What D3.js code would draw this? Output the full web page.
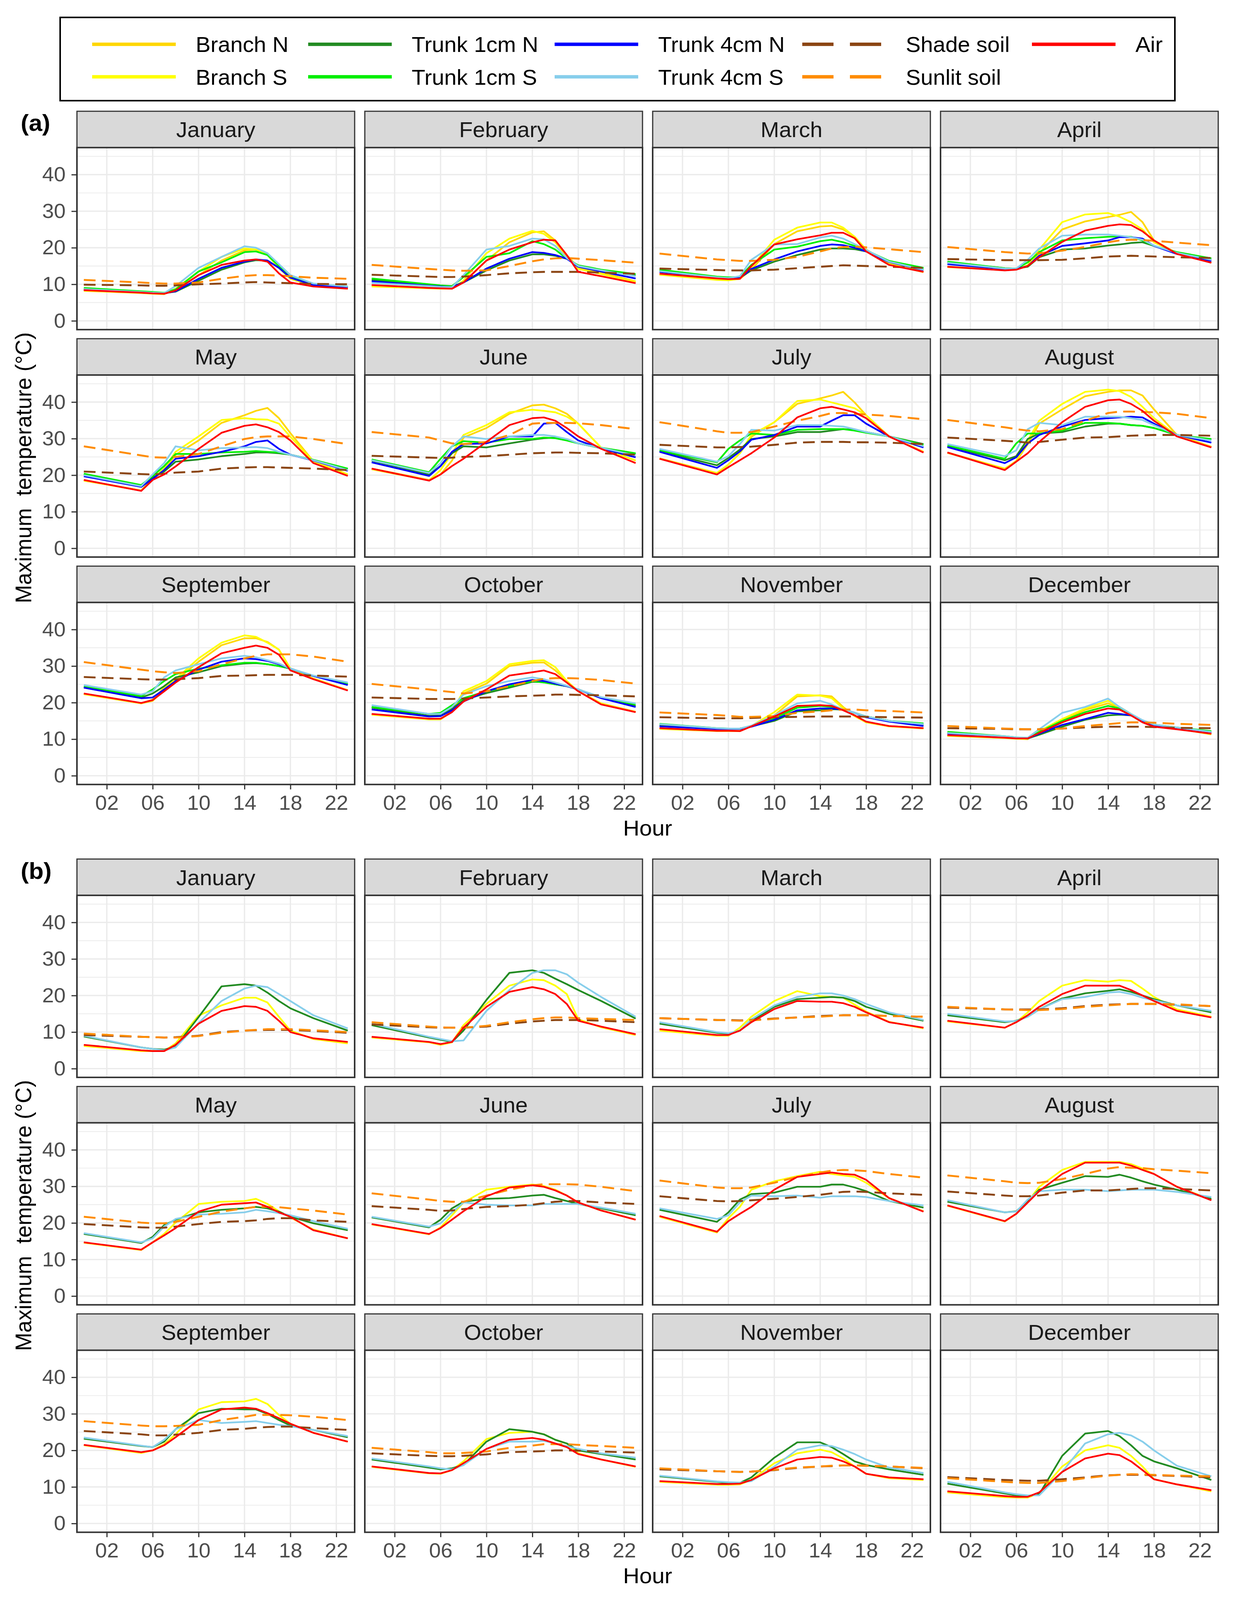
<!DOCTYPE html>
<html>
<head>
<meta charset="utf-8">
<script src="https://cdn.jsdelivr.net/npm/d3@7"></script>
<style>
  html, body { margin: 0; padding: 0; background: #fff; overflow: hidden; }
  svg { display: block; }
  text { font-family: "Liberation Sans", Arial, sans-serif; }
</style>
</head>
<body>
<div id="chart"></div>
<script>
const months = ["January", "February", "March", "April", "May", "June",
  "July", "August", "September", "October", "November", "December"];
const hours = [0, 5, 6, 7, 8, 10, 12, 14, 15, 16, 17, 18, 20, 23];
const hourTicks = [2, 6, 10, 14, 18, 22];
const tempTicks = [0, 10, 20, 30, 40];
const seriesNames = ["Branch N", "Branch S", "Trunk 1cm N", "Trunk 1cm S",
  "Trunk 4cm N", "Trunk 4cm S", "Shade soil", "Sunlit soil", "Air"];

// (a) one row per month, one value per entry of hours
const aBranchN = [
  [8.3, 7.7, 7.5, 7.4, 8.5, 12.5, 16.5, 19.3, 19.5, 18.5, 15, 12, 9.8, 9.0],
  [9.6, 9.0, 8.9, 8.9, 10.5, 16.5, 21.5, 24.2, 24.5, 22, 18, 14.6, 13.2, 10.8],
  [12.7, 11.3, 11.2, 11.5, 14.0, 21.0, 24.5, 25.8, 26.0, 25.0, 23, 19.5, 15.8, 13.4],
  [14.8, 14.0, 14.2, 15.0, 18.5, 25.0, 27.2, 28.4, 29.0, 29.8, 27.0, 22.0, 18.5, 16.0],
  [18.6, 15.8, 18.8, 21.5, 25.6, 29.5, 34.3, 36.4, 37.6, 38.4, 35.6, 31.5, 23.8, 20.2],
  [21.8, 18.7, 20.2, 24.0, 30.3, 32.9, 36.8, 39.1, 39.3, 38.3, 36.8, 34.1, 27.5, 24.0],
  [24.6, 20.6, 22.9, 26.0, 30.5, 34.5, 39.5, 41.0, 41.8, 42.8, 39.9, 36.4, 30.6, 26.4],
  [26.2, 21.8, 23.8, 28.5, 34.1, 38.0, 41.6, 42.8, 43.2, 43.2, 41.8, 38.0, 31.0, 27.8],
  [22.4, 19.8, 20.5, 23.5, 26.0, 31.2, 35.7, 37.6, 37.6, 36.6, 34.5, 29.3, 26.6, 23.4],
  [16.8, 15.5, 15.5, 17.5, 22.5, 25.2, 30.0, 30.9, 31.0, 28.8, 25.9, 23.1, 19.8, 17.5],
  [12.9, 12.3, 12.3, 12.3, 13.6, 16.5, 21.7, 22.0, 21.7, 18.8, 16.5, 14.6, 13.6, 13.0],
  [11.0, 10.4, 10.2, 10.1, 12.0, 15.0, 18.0, 19.8, 18.5, 16.7, 15.0, 13.8, 13.0, 11.4]
];
const aBranchS = [
  [8.2, 7.6, 7.4, 7.3, 8.8, 13.5, 17.5, 19.8, 19.5, 18, 14.5, 11.5, 9.6, 8.8],
  [9.4, 8.9, 8.8, 8.8, 11, 18.5, 22.5, 24.6, 23.8, 21.5, 17.5, 14.2, 12.8, 10.6],
  [12.6, 11.2, 11.1, 11.5, 14.7, 22.2, 25.5, 26.9, 26.9, 25.5, 23, 19.3, 15.6, 13.3],
  [14.7, 13.9, 14.2, 15.2, 19.5, 27.0, 29.1, 29.5, 28.5, 27.0, 25.0, 21.5, 18.5, 15.9],
  [18.5, 15.8, 19.1, 21.8, 26.4, 30.6, 35.1, 35.6, 35.3, 35.2, 34.1, 30.5, 23.8, 20.2],
  [21.6, 18.6, 21.4, 26.0, 31.0, 33.7, 37.2, 37.9, 37.6, 37.2, 36.0, 34.1, 27.5, 24.0],
  [24.5, 20.5, 22.9, 26.0, 31.0, 34.5, 40.3, 40.7, 39.9, 39.1, 38.3, 36.4, 30.6, 26.3],
  [26.1, 21.7, 23.9, 29.5, 34.9, 39.5, 42.8, 43.4, 43.0, 41.4, 38.7, 35.6, 30.8, 27.7],
  [22.3, 19.8, 20.8, 24.1, 26.4, 32.1, 36.4, 38.4, 38.0, 36.4, 34.5, 29.3, 26.5, 23.4],
  [16.7, 15.4, 15.4, 17.6, 23.1, 25.9, 30.5, 31.4, 31.6, 29.7, 25.9, 23.1, 19.7, 17.4],
  [12.8, 12.2, 12.2, 12.2, 13.6, 17.4, 22.2, 21.9, 21.2, 18.4, 16.3, 14.6, 13.5, 12.9],
  [10.9, 10.3, 10.1, 10.0, 12.2, 15.5, 18.4, 20.5, 18.8, 16.9, 15.0, 13.7, 12.9, 11.3]
];
const aTrunk1N = [
  [8.6, 7.9, 7.7, 7.6, 8.0, 11.0, 14.0, 16.0, 16.6, 16.5, 14.5, 12, 10, 9.2],
  [11.2, 9.8, 9.6, 9.4, 10.5, 13.8, 16.5, 18.2, 18.2, 17.8, 17, 15, 13.8, 12.4],
  [13.8, 12.0, 11.8, 11.8, 13.8, 16.2, 18.0, 19.5, 19.8, 19.8, 19.6, 19.0, 16.3, 14.3],
  [16.0, 14.4, 14.3, 14.8, 17.4, 19.5, 19.8, 20.6, 20.9, 21.3, 21.5, 20.5, 18.5, 16.8],
  [20.2, 17.1, 19.4, 21.0, 23.7, 24.3, 25.2, 25.8, 26.2, 26.2, 26.0, 25.6, 24.1, 21.6],
  [24.0, 20.2, 22.5, 26.0, 27.9, 27.6, 28.7, 29.7, 30.1, 30.3, 29.8, 28.7, 27.4, 25.8],
  [26.6, 22.7, 24.7, 27.0, 29.9, 30.6, 31.8, 31.8, 32.2, 32.6, 32.4, 31.8, 30.6, 28.5],
  [27.9, 24.1, 25.2, 29.9, 31.4, 31.8, 33.3, 34.1, 34.1, 33.7, 33.5, 32.9, 31.0, 29.7],
  [24.3, 21.4, 22.5, 24.5, 26.9, 28.3, 30.0, 30.7, 30.8, 30.5, 30.0, 29.3, 27.3, 25.0],
  [18.6, 16.4, 16.5, 18.4, 20.7, 22.6, 24.1, 25.7, 25.6, 25.0, 24.5, 23.6, 21.4, 19.1],
  [13.8, 12.9, 12.9, 12.9, 13.5, 15.0, 17.6, 17.9, 18.2, 18.1, 17.2, 16.2, 15.0, 13.9],
  [11.7, 10.7, 10.4, 10.2, 11.2, 13.4, 15.3, 16.5, 16.7, 16.5, 15.0, 13.9, 13.1, 12.0]
];
const aTrunk1S = [
  [9.0, 8.1, 7.9, 7.7, 8.6, 13.5, 16.0, 18.8, 19.0, 18.0, 15, 12.2, 10, 9.4],
  [11.6, 10.0, 9.7, 9.5, 12, 17.5, 18.5, 21.8, 21, 19.5, 17, 15.2, 14, 12.8],
  [14.0, 12.1, 11.9, 12.0, 15.3, 19.5, 20.3, 21.8, 22.2, 21.5, 20.5, 19.3, 16.4, 14.5],
  [16.2, 14.4, 14.3, 16.0, 18.8, 22.0, 22.6, 23.0, 23.1, 23.0, 22.0, 20.5, 18.8, 17.1],
  [20.4, 17.3, 19.8, 22.5, 25.8, 25.8, 26.2, 26.4, 26.6, 26.4, 26.2, 25.6, 24.2, 21.8],
  [24.3, 20.8, 24.5, 27.9, 29.3, 28.9, 29.9, 29.9, 30.3, 30.1, 29.5, 28.7, 27.5, 26.0],
  [26.8, 23.5, 27.2, 29.5, 31.4, 31.0, 32.4, 32.6, 32.6, 32.6, 32.2, 31.6, 30.6, 28.3],
  [28.1, 24.5, 28.7, 31.4, 31.4, 32.2, 34.3, 34.3, 34.1, 33.7, 33.5, 32.9, 31.0, 29.9],
  [24.4, 21.8, 23.6, 25.9, 27.8, 29.3, 30.2, 30.9, 30.9, 30.5, 30.0, 29.3, 27.3, 25.2],
  [18.8, 16.9, 17.2, 19.3, 21.2, 23.1, 24.5, 25.9, 25.5, 25.0, 24.5, 23.6, 21.4, 19.5],
  [14.2, 13.0, 12.9, 12.9, 13.6, 15.7, 18.6, 19.1, 18.8, 18.1, 17.2, 16.2, 15.0, 14.3],
  [12.0, 10.8, 10.5, 10.3, 12.0, 15.0, 17.4, 19.1, 18.4, 16.7, 15.0, 14.0, 13.2, 12.2]
];
const aTrunk4N = [
  [8.5, 7.8, 7.6, 7.5, 8.1, 11.5, 14.5, 16.2, 16.8, 16.5, 14.5, 11.8, 9.8, 9.1],
  [10.8, 9.6, 9.4, 9.2, 10.5, 14.3, 17.0, 18.8, 18.6, 18, 17, 14.8, 13.5, 11.6],
  [13.4, 11.8, 11.6, 11.7, 14.2, 16.8, 19.0, 20.5, 20.9, 20.7, 20, 19.0, 16.1, 13.9],
  [15.5, 14.2, 14.2, 15.0, 17.8, 20.5, 21.2, 22.0, 22.9, 22.9, 22.5, 20.5, 18.3, 16.4],
  [19.7, 16.8, 19.0, 21.4, 24.5, 25.2, 26.4, 27.9, 29.1, 29.5, 27.2, 25.6, 24.0, 21.2],
  [23.5, 19.8, 22.5, 26.4, 28.5, 28.7, 30.6, 30.6, 34.1, 34.3, 31.8, 29.5, 27.3, 24.9],
  [26.4, 22.0, 24.1, 26.5, 29.7, 31.0, 33.3, 33.3, 34.9, 36.4, 36.4, 34.1, 30.6, 27.6],
  [27.7, 23.3, 24.9, 28.7, 31.0, 33.3, 35.1, 35.6, 35.8, 36.0, 35.8, 34.1, 31.0, 28.9],
  [24.1, 21.2, 21.4, 23.6, 25.9, 29.0, 31.2, 32.1, 31.9, 31.4, 30.5, 29.3, 27.3, 24.8],
  [18.1, 16.2, 16.3, 17.9, 20.3, 23.1, 25.0, 26.2, 25.9, 25.2, 24.5, 23.6, 21.2, 18.8],
  [13.5, 12.8, 12.8, 12.8, 13.4, 15.3, 17.9, 18.4, 18.4, 18.1, 17.2, 16.0, 14.8, 13.6],
  [11.5, 10.7, 10.4, 10.2, 11.5, 13.9, 15.5, 17.2, 16.9, 16.5, 15.0, 13.9, 13.0, 11.7]
];
const aTrunk4S = [
  [8.7, 7.9, 7.7, 7.6, 9.5, 14.5, 17.5, 20.4, 20.0, 18.5, 15.5, 12.5, 10.2, 9.4],
  [10.4, 9.5, 9.3, 9.2, 12.5, 19.5, 20.5, 22.5, 22.3, 20.5, 17.2, 15, 13.8, 12.2],
  [13.6, 11.9, 11.7, 12.2, 16.7, 20.9, 21.0, 22.8, 23.3, 22.5, 21, 19.4, 16.2, 14.0],
  [15.9, 14.3, 14.3, 16.7, 19.8, 23.3, 23.6, 23.6, 23.3, 22.9, 22.2, 20.6, 18.6, 16.7],
  [20.0, 17.0, 20.2, 23.3, 27.9, 26.8, 27.4, 27.6, 27.7, 27.4, 26.4, 25.6, 24.1, 21.4],
  [24.1, 20.6, 23.3, 27.9, 30.6, 29.9, 30.6, 31.0, 31.0, 30.6, 29.9, 28.7, 27.5, 25.4],
  [27.2, 23.7, 25.2, 28.5, 32.4, 32.2, 33.7, 33.7, 33.5, 33.3, 32.6, 31.8, 30.6, 27.9],
  [28.5, 25.2, 26.8, 32.6, 34.3, 33.7, 36.0, 36.0, 36.0, 35.6, 35.1, 33.7, 31.0, 29.5],
  [24.8, 22.2, 23.1, 26.9, 28.8, 30.5, 32.1, 32.8, 32.4, 31.6, 30.7, 29.3, 27.4, 25.5],
  [19.3, 16.9, 16.9, 18.8, 22.2, 24.5, 25.9, 26.9, 26.4, 25.5, 24.6, 23.6, 21.5, 19.8],
  [14.1, 13.0, 12.9, 12.9, 13.7, 16.5, 19.8, 20.5, 19.5, 18.1, 17.2, 16.2, 15.0, 14.1],
  [11.7, 10.8, 10.5, 10.4, 12.7, 17.2, 18.8, 21.1, 18.8, 16.9, 15.2, 14.0, 13.2, 12.0]
];
const aShadeSoil = [
  [9.9, 9.7, 9.6, 9.6, 9.7, 10.0, 10.2, 10.5, 10.6, 10.5, 10.4, 10.3, 10.1, 10.0],
  [12.6, 12.1, 12.0, 12.0, 12.1, 12.5, 13.0, 13.3, 13.4, 13.4, 13.4, 13.4, 13.2, 12.9],
  [14.3, 13.9, 13.8, 13.8, 13.8, 14.0, 14.4, 14.8, 15.0, 15.2, 15.1, 15.0, 14.8, 14.5],
  [16.9, 16.6, 16.6, 16.6, 16.6, 16.7, 17.1, 17.6, 17.7, 17.8, 17.7, 17.6, 17.4, 17.2],
  [21.0, 20.3, 20.2, 20.4, 20.7, 21.0, 21.8, 22.1, 22.2, 22.2, 22.1, 22.0, 21.8, 21.4],
  [25.3, 24.8, 24.7, 24.8, 25.0, 25.2, 25.6, 26.0, 26.1, 26.2, 26.2, 26.1, 26.0, 25.6],
  [28.3, 27.6, 27.6, 27.7, 27.8, 28.3, 28.9, 29.1, 29.1, 29.1, 29.0, 29.0, 28.9, 28.5],
  [30.3, 29.4, 29.2, 28.9, 29.1, 29.7, 30.3, 30.4, 30.6, 30.8, 30.9, 31.0, 31.0, 30.8],
  [27.0, 26.4, 26.3, 26.3, 26.4, 26.7, 27.3, 27.4, 27.5, 27.6, 27.6, 27.6, 27.4, 27.1],
  [21.4, 21.0, 21.0, 21.0, 21.1, 21.4, 21.7, 21.9, 22.0, 22.2, 22.2, 22.1, 22.0, 21.7],
  [16.0, 15.7, 15.7, 15.7, 15.8, 16.0, 16.1, 16.2, 16.2, 16.2, 16.2, 16.1, 16.0, 15.9],
  [13.0, 12.8, 12.7, 12.7, 12.7, 12.9, 13.2, 13.4, 13.4, 13.4, 13.4, 13.3, 13.1, 13.0]
];
const aSunlitSoil = [
  [11.2, 10.5, 10.3, 10.2, 10.2, 10.5, 11.5, 12.3, 12.5, 12.5, 12.4, 12.2, 11.8, 11.5],
  [15.3, 14.2, 14.0, 13.8, 13.7, 13.8, 15.0, 16.3, 16.8, 17.1, 17.2, 17.0, 16.6, 15.9],
  [18.4, 16.8, 16.6, 16.4, 16.4, 16.7, 17.5, 19.0, 19.8, 20.2, 20.3, 20.1, 19.6, 18.8],
  [20.2, 18.8, 18.6, 18.4, 18.5, 19.2, 20.2, 21.5, 22.0, 22.2, 22.1, 21.9, 21.4, 20.7],
  [27.9, 25.4, 24.9, 24.8, 25.0, 25.8, 27.9, 29.9, 30.4, 30.6, 30.6, 30.6, 29.9, 28.5],
  [31.8, 30.3, 29.5, 28.7, 28.5, 29.1, 31.0, 34.1, 34.3, 34.3, 34.3, 34.2, 33.7, 32.6],
  [34.5, 32.0, 31.6, 31.6, 31.8, 33.3, 34.9, 36.2, 37.0, 37.0, 36.8, 36.6, 36.2, 35.3],
  [35.1, 33.1, 32.6, 32.2, 32.0, 32.6, 34.9, 37.0, 37.4, 37.4, 37.3, 37.2, 36.8, 35.6],
  [31.1, 29.0, 28.6, 28.3, 28.1, 28.6, 30.5, 32.1, 32.8, 33.2, 33.2, 33.2, 32.6, 31.2],
  [25.1, 23.6, 23.2, 22.9, 22.5, 23.1, 24.5, 25.9, 26.5, 26.7, 26.7, 26.6, 26.2, 25.2],
  [17.3, 16.6, 16.4, 16.1, 16.1, 16.3, 17.2, 17.6, 17.9, 18.1, 18.1, 17.9, 17.7, 17.3],
  [13.6, 12.9, 12.8, 12.7, 12.7, 12.9, 13.6, 14.1, 14.4, 14.6, 14.6, 14.5, 14.2, 13.9]
];
const aAir = [
  [8.4, 7.7, 7.5, 7.4, 8.3, 12.5, 15.3, 16.5, 16.8, 16.2, 13, 10.5, 9.4, 8.8],
  [9.8, 9.0, 8.9, 8.8, 10.5, 16.5, 19.5, 21.5, 22.2, 22, 18, 13.4, 12.2, 10.3],
  [12.9, 11.6, 11.4, 11.5, 15.0, 20.9, 22.3, 23.4, 24.1, 24.1, 22.6, 19.0, 15.3, 13.4],
  [14.8, 13.8, 14.0, 15.0, 17.4, 21.6, 24.7, 26.0, 26.4, 26.2, 24.5, 22.0, 18.3, 15.9],
  [18.7, 15.7, 18.7, 20.2, 22.4, 27.2, 31.6, 33.5, 33.9, 33.1, 31.8, 29.5, 23.3, 19.8],
  [21.8, 18.5, 20.2, 22.5, 24.5, 29.1, 33.7, 35.6, 35.8, 34.9, 32.9, 30.6, 27.2, 23.3],
  [24.5, 20.2, 22.2, 24.1, 26.0, 30.3, 35.8, 38.3, 38.7, 38.0, 37.2, 35.6, 30.6, 26.2],
  [26.2, 21.4, 23.7, 26.0, 29.1, 34.5, 38.7, 40.5, 40.7, 39.5, 37.6, 34.9, 30.6, 27.6],
  [22.5, 19.9, 20.7, 23.1, 25.5, 29.7, 33.5, 35.0, 35.6, 35.0, 33.1, 28.8, 26.4, 23.3],
  [16.9, 15.6, 15.6, 17.4, 20.3, 23.6, 27.4, 28.3, 28.8, 27.8, 25.5, 23.1, 19.5, 17.4],
  [13.0, 12.3, 12.3, 12.2, 13.5, 16.2, 19.1, 19.3, 19.1, 17.9, 16.5, 14.8, 13.6, 13.0],
  [11.1, 10.4, 10.2, 10.2, 11.7, 14.6, 16.9, 18.4, 18.1, 16.5, 14.6, 13.4, 12.7, 11.5]
];

// (b)
const bBranchS = [
  [6.2, 4.8, 4.8, 4.8, 6.9, 14.5, 17.3, 19.4, 19.4, 18.1, 14.2, 10.4, 8.1, 6.9],
  [8.5, 7.2, 6.5, 7.2, 11.9, 17.7, 22.7, 24.4, 24.2, 22.7, 20.4, 13.5, 11.3, 9.2],
  [10.4, 9.0, 9.0, 11.2, 14.2, 18.5, 21.2, 19.8, 19.6, 19.4, 17.5, 15.6, 12.8, 11.0],
  [12.9, 11.2, 12.7, 15.4, 18.5, 22.7, 24.2, 23.8, 24.2, 24.0, 21.9, 19.6, 16.2, 14.2],
  [14.6, 12.6, 14.7, 17.0, 20.1, 25.2, 25.8, 26.0, 26.6, 25.2, 23.2, 21.5, 18.2, 15.8],
  [19.6, 16.9, 18.8, 22.1, 25.6, 29.1, 29.9, 30.5, 30.1, 29.1, 27.5, 25.6, 23.4, 20.9],
  [21.7, 17.4, 21.3, 24.4, 29.1, 31.4, 32.8, 34.0, 33.4, 33.0, 32.6, 31.0, 26.8, 23.2],
  [24.7, 20.4, 22.5, 25.8, 29.9, 34.5, 36.7, 36.7, 36.7, 36.1, 34.9, 33.4, 29.9, 26.4],
  [21.4, 19.3, 20.0, 21.7, 24.4, 31.2, 33.2, 33.4, 34.1, 32.7, 29.7, 27.3, 24.8, 22.4],
  [15.5, 13.7, 13.6, 14.6, 17.0, 23.1, 24.8, 25.1, 24.4, 22.9, 21.9, 19.2, 17.5, 15.5],
  [11.4, 10.6, 10.6, 10.7, 11.9, 16.5, 19.2, 20.2, 19.5, 17.8, 15.6, 13.6, 12.4, 11.9],
  [8.5, 7.2, 7.1, 7.1, 8.3, 15.6, 20.0, 21.4, 20.7, 18.5, 15.6, 12.1, 10.7, 8.8]
];
const bTrunk1N = [
  [8.8, 5.8, 5.4, 5.2, 6.0, 14.1, 22.5, 23.1, 22.7, 20.8, 18.5, 16.5, 13.8, 10.4],
  [11.9, 8.5, 7.9, 7.3, 10.4, 18.8, 26.2, 26.9, 26.2, 24.6, 23.1, 21.5, 18.5, 13.7],
  [12.3, 9.8, 9.6, 10.4, 13.1, 16.9, 19.0, 19.4, 19.6, 19.4, 18.5, 16.9, 15.0, 13.1],
  [14.6, 12.7, 13.1, 14.2, 16.2, 19.2, 20.6, 21.3, 21.7, 21.0, 20.0, 19.0, 17.3, 15.4],
  [17.0, 14.5, 16.2, 19.4, 20.9, 22.9, 23.6, 24.0, 24.4, 24.0, 23.1, 21.7, 19.9, 18.0],
  [21.5, 18.8, 20.9, 24.0, 25.8, 26.6, 26.8, 27.5, 27.7, 26.8, 26.0, 25.2, 24.0, 22.1],
  [23.6, 20.3, 22.9, 26.4, 27.9, 28.3, 29.9, 29.9, 30.5, 30.5, 29.7, 28.7, 26.0, 24.2],
  [25.8, 22.9, 23.2, 26.0, 29.1, 31.0, 32.8, 32.6, 33.2, 32.4, 31.4, 30.5, 29.1, 26.6],
  [23.2, 21.2, 20.9, 22.4, 25.8, 30.2, 31.4, 31.2, 31.2, 30.0, 28.3, 26.8, 25.6, 23.6],
  [17.5, 15.3, 14.8, 15.1, 16.0, 22.4, 25.8, 25.1, 24.4, 22.9, 21.9, 20.0, 19.0, 17.5],
  [12.9, 11.4, 11.1, 11.1, 12.6, 18.0, 22.2, 22.2, 20.9, 19.0, 17.0, 16.0, 14.8, 13.3],
  [10.9, 8.2, 7.7, 7.5, 8.0, 18.5, 24.6, 25.3, 23.9, 21.4, 18.5, 17.0, 15.1, 11.9]
];
const bTrunk4S = [
  [9.0, 5.8, 5.4, 5.0, 5.8, 12.5, 18.5, 21.9, 22.7, 22.3, 20.4, 18.5, 14.6, 11.0],
  [12.3, 8.7, 8.1, 7.5, 7.7, 15.8, 21.5, 26.2, 26.9, 26.9, 25.8, 23.5, 19.6, 14.2],
  [12.7, 10.0, 9.7, 10.4, 13.5, 17.3, 19.6, 20.6, 20.6, 20.0, 19.0, 17.7, 15.4, 13.3],
  [15.0, 12.9, 13.0, 14.2, 16.2, 19.0, 19.6, 20.8, 21.0, 20.4, 19.4, 18.7, 17.3, 15.8],
  [17.2, 14.7, 15.8, 19.0, 21.1, 22.3, 22.5, 22.9, 23.6, 23.2, 22.7, 22.1, 20.5, 18.4],
  [21.7, 19.0, 19.9, 22.9, 25.6, 25.0, 24.8, 24.8, 25.2, 25.2, 25.2, 25.2, 24.2, 22.5],
  [24.0, 21.1, 22.1, 25.6, 27.5, 27.3, 27.5, 26.9, 27.3, 27.3, 27.3, 27.1, 26.0, 24.8],
  [26.2, 22.9, 23.1, 26.4, 28.7, 29.1, 29.1, 28.7, 28.9, 29.1, 29.1, 29.1, 28.5, 27.1],
  [23.5, 21.3, 20.9, 22.9, 25.8, 28.3, 27.5, 27.8, 28.0, 27.5, 27.0, 26.6, 25.6, 23.9],
  [17.8, 15.6, 15.1, 14.8, 16.0, 20.4, 22.4, 22.4, 22.6, 21.9, 21.2, 20.4, 19.2, 18.0],
  [13.1, 11.5, 11.3, 11.2, 11.6, 15.6, 20.2, 21.4, 21.2, 20.2, 19.0, 17.5, 15.3, 13.8],
  [11.4, 8.5, 8.0, 7.7, 7.7, 14.1, 21.9, 24.4, 24.8, 24.1, 22.4, 20.0, 15.8, 12.9]
];
const bShadeSoil = [
  [9.2, 8.7, 8.6, 8.5, 8.6, 9.0, 10.0, 10.4, 10.5, 10.6, 10.6, 10.6, 10.3, 9.8],
  [12.1, 11.3, 11.2, 11.2, 11.2, 11.5, 12.3, 12.9, 13.1, 13.3, 13.3, 13.3, 13.1, 12.7],
  [13.8, 13.3, 13.3, 13.2, 13.3, 13.7, 14.0, 14.4, 14.5, 14.6, 14.6, 14.6, 14.4, 14.2],
  [16.7, 16.2, 16.2, 16.2, 16.2, 16.5, 17.1, 17.5, 17.6, 17.7, 17.7, 17.7, 17.5, 17.1],
  [19.7, 18.8, 18.7, 18.7, 19.0, 19.7, 20.3, 20.5, 20.7, 21.1, 21.3, 21.3, 20.7, 20.3],
  [24.6, 23.6, 23.3, 23.4, 23.8, 24.4, 24.6, 25.0, 25.4, 25.8, 26.0, 26.0, 25.6, 25.2],
  [27.3, 26.0, 25.9, 26.0, 26.2, 26.6, 27.1, 27.7, 28.1, 28.5, 28.6, 28.5, 28.1, 27.7],
  [28.6, 27.5, 27.3, 27.3, 27.5, 28.3, 28.9, 28.9, 29.1, 29.3, 29.5, 29.5, 29.3, 28.9],
  [25.3, 24.4, 24.1, 24.1, 24.3, 24.8, 25.6, 25.9, 26.2, 26.4, 26.5, 26.5, 26.1, 25.6],
  [19.2, 18.5, 18.4, 18.4, 18.5, 18.9, 19.5, 19.7, 19.8, 20.0, 20.0, 19.9, 19.7, 19.4],
  [14.8, 14.3, 14.2, 14.1, 14.2, 14.6, 15.2, 15.6, 15.7, 15.9, 15.9, 15.8, 15.6, 15.1],
  [12.7, 11.9, 11.8, 11.7, 11.7, 12.1, 12.6, 13.2, 13.3, 13.3, 13.3, 13.2, 13.0, 12.6]
];
const bSunlitSoil = [
  [9.6, 8.7, 8.6, 8.5, 8.5, 8.9, 9.8, 10.4, 10.6, 10.8, 10.8, 10.8, 10.5, 10.0],
  [12.7, 11.5, 11.3, 11.2, 11.2, 11.7, 12.7, 13.5, 13.8, 14.0, 14.0, 13.8, 13.6, 13.3],
  [13.8, 13.3, 13.2, 13.1, 13.2, 13.6, 14.0, 14.2, 14.4, 14.6, 14.6, 14.6, 14.4, 14.2],
  [16.9, 16.2, 16.1, 16.0, 16.0, 16.3, 16.9, 17.3, 17.5, 17.7, 17.7, 17.7, 17.6, 17.1],
  [21.7, 20.1, 19.9, 19.9, 20.3, 21.7, 23.1, 24.0, 24.4, 24.4, 24.3, 24.0, 23.4, 22.3],
  [28.1, 26.4, 26.0, 25.8, 25.8, 27.5, 29.1, 30.3, 30.6, 30.6, 30.6, 30.5, 29.9, 28.7],
  [31.6, 29.7, 29.5, 29.5, 29.7, 31.0, 32.6, 33.8, 34.3, 34.5, 34.4, 34.2, 33.4, 32.4],
  [33.0, 31.4, 31.0, 30.9, 31.0, 32.0, 33.4, 34.9, 35.3, 35.1, 35.0, 34.7, 34.3, 33.6],
  [28.0, 26.8, 26.6, 26.6, 26.7, 27.0, 28.3, 29.2, 29.7, 29.7, 29.7, 29.6, 29.2, 28.3],
  [20.7, 19.5, 19.2, 19.2, 19.3, 19.7, 20.7, 21.3, 21.7, 21.7, 21.7, 21.5, 21.2, 20.7],
  [15.1, 14.3, 14.2, 14.1, 14.2, 14.7, 15.3, 15.6, 15.8, 15.9, 15.9, 15.8, 15.6, 15.2],
  [12.4, 11.4, 11.2, 11.1, 11.1, 11.6, 12.4, 13.1, 13.3, 13.5, 13.4, 13.3, 13.1, 12.9]
];
const bAir = [
  [6.5, 5.0, 4.8, 4.8, 6.5, 12.3, 15.8, 17.1, 16.9, 15.8, 13.1, 10.0, 8.3, 7.3],
  [8.7, 7.3, 6.7, 7.3, 11.2, 16.9, 21.0, 22.3, 21.7, 20.4, 17.7, 13.1, 11.5, 9.4],
  [10.8, 9.2, 9.2, 10.4, 12.7, 16.3, 18.5, 18.3, 18.3, 17.9, 16.9, 15.4, 12.7, 11.2],
  [13.1, 11.2, 12.7, 14.6, 16.9, 20.4, 22.7, 22.7, 22.7, 21.5, 20.0, 18.5, 15.8, 14.0],
  [14.7, 12.7, 14.7, 16.6, 18.6, 23.1, 25.0, 25.4, 25.6, 24.4, 22.9, 21.7, 18.0, 15.8],
  [19.7, 17.0, 18.6, 20.9, 23.2, 27.3, 29.7, 30.3, 29.9, 28.9, 27.5, 25.6, 23.4, 20.9],
  [21.9, 17.6, 20.5, 22.5, 24.4, 29.1, 32.6, 33.4, 33.8, 33.4, 33.2, 31.8, 26.8, 23.1],
  [24.8, 20.5, 22.5, 25.6, 28.7, 33.4, 36.5, 36.5, 36.5, 35.7, 34.5, 33.4, 29.9, 26.2],
  [21.5, 19.5, 20.0, 21.4, 23.6, 28.3, 31.2, 31.7, 31.4, 30.2, 28.8, 27.3, 24.8, 22.4],
  [15.6, 13.8, 13.7, 14.6, 16.5, 20.4, 22.9, 23.4, 22.9, 21.9, 20.9, 19.0, 17.5, 15.6],
  [11.6, 10.8, 10.8, 10.9, 11.9, 15.1, 17.5, 18.2, 18.0, 17.0, 15.6, 13.6, 12.6, 12.1],
  [8.8, 7.5, 7.3, 7.3, 8.5, 14.1, 17.8, 19.1, 18.7, 17.0, 14.6, 12.1, 10.7, 9.1]
];

const seriesStyle = {
  "Branch N": { color: "#FFD700" },
  "Branch S": { color: "#FFFF00" },
  "Trunk 1cm N": { color: "#228B22" },
  "Trunk 1cm S": { color: "#00EE00" },
  "Trunk 4cm N": { color: "#0000FF" },
  "Trunk 4cm S": { color: "#87CEEB" },
  "Shade soil": { color: "#8B4513", dashed: true },
  "Sunlit soil": { color: "#FF8C00", dashed: true },
  "Air": { color: "#FF0000" }
};

const partA = [
  ["Branch N", aBranchN], ["Branch S", aBranchS], ["Trunk 1cm N", aTrunk1N],
  ["Trunk 1cm S", aTrunk1S], ["Trunk 4cm N", aTrunk4N], ["Trunk 4cm S", aTrunk4S],
  ["Shade soil", aShadeSoil], ["Sunlit soil", aSunlitSoil], ["Air", aAir]
];
const partB = [
  ["Branch S", bBranchS], ["Trunk 1cm N", bTrunk1N], ["Trunk 4cm S", bTrunk4S],
  ["Shade soil", bShadeSoil], ["Sunlit soil", bSunlitSoil], ["Air", bAir]
];

const width = 3208, height = 4228;
const panelW = 711, panelH = 481, stripH = 96;
const colX = (c) => 197 + c * 737;
const stripY = (r) => 294 + r * 601;

// fit the whole figure into whatever viewport the browser gives
const vw = window.innerWidth || width, vh = window.innerHeight || height;
const svg = d3.select("#chart").append("svg")
  .attr("width", vw).attr("height", vh)
  .attr("viewBox", `0 0 ${width} ${height}`)
  .attr("preserveAspectRatio", "none");
svg.append("rect").attr("width", width).attr("height", height).attr("fill", "#fff");

const x = d3.scaleLinear().domain([-0.6, 23.6]).range([0, panelW]);
const y = d3.scaleLinear().domain([-2.4, 47.4]).range([panelH, 0]);
const line = d3.line().x((d) => x(d.h)).y((d) => y(d.v));

function styleAxis(ax) {
  ax.select(".domain").remove();
  ax.selectAll(".tick line").attr("stroke", "#333333").attr("stroke-width", 3);
  ax.selectAll(".tick text").attr("fill", "#4D4D4D").attr("font-size", 54)
    .attr("font-family", "Liberation Sans, Arial, sans-serif");
}

function drawPart(series, offsetY, tag) {
  const g = svg.append("g").attr("transform", `translate(0,${offsetY})`);

  g.append("text").attr("x", 53).attr("y", 346)
    .attr("font-size", 62).attr("font-weight", "bold").text(tag);

  months.forEach((m, i) => {
    const r = Math.floor(i / 4), c = i % 4;
    const px = colX(c), sy = stripY(r), py = sy + stripH;

    const strip = g.append("g").attr("transform", `translate(${px},${sy})`);
    strip.append("rect").attr("width", panelW).attr("height", stripH)
      .attr("fill", "#D9D9D9").attr("stroke", "#333333").attr("stroke-width", 3);
    strip.append("text").attr("x", panelW / 2).attr("y", stripH / 2).attr("dy", "0.36em")
      .attr("text-anchor", "middle").attr("font-size", 57).attr("fill", "#1A1A1A").text(m);

    const p = g.append("g").attr("transform", `translate(${px},${py})`);
    p.append("rect").attr("width", panelW).attr("height", panelH).attr("fill", "#fff");

    p.selectAll(".minor").data([5, 15, 25, 35, 45]).join("line")
      .attr("x1", 0).attr("x2", panelW).attr("y1", (d) => y(d)).attr("y2", (d) => y(d))
      .attr("stroke", "#EBEBEB").attr("stroke-width", 2);
    p.selectAll(".majorY").data(tempTicks).join("line")
      .attr("x1", 0).attr("x2", panelW).attr("y1", (d) => y(d)).attr("y2", (d) => y(d))
      .attr("stroke", "#EBEBEB").attr("stroke-width", 3.5);
    p.selectAll(".majorX").data(hourTicks).join("line")
      .attr("y1", 0).attr("y2", panelH).attr("x1", (d) => x(d)).attr("x2", (d) => x(d))
      .attr("stroke", "#EBEBEB").attr("stroke-width", 3.5);

    series.forEach(([name, vals]) => {
      const st = seriesStyle[name];
      const pts = hours.map((h, k) => ({ h: h, v: vals[i][k] }));
      p.append("path").datum(pts).attr("d", line)
        .attr("fill", "none").attr("stroke", st.color)
        .attr("stroke-width", st.dashed ? 5 : 4.5)
        .attr("stroke-dasharray", st.dashed ? "30,16" : null)
        .attr("stroke-linejoin", "round");
    });

    p.append("rect").attr("width", panelW).attr("height", panelH)
      .attr("fill", "none").attr("stroke", "#333333").attr("stroke-width", 4);

    if (c === 0) {
      p.append("g")
        .call(d3.axisLeft(y).tickValues(tempTicks).tickSize(14).tickPadding(15))
        .call(styleAxis);
    }
    if (r === 2) {
      p.append("g").attr("transform", `translate(0,${panelH})`)
        .call(d3.axisBottom(x).tickValues(hourTicks).tickFormat(d3.format("02d"))
          .tickSize(13).tickPadding(15))
        .call(styleAxis);
    }
  });

  g.append("text").attr("x", 1658).attr("y", 2208).attr("text-anchor", "middle")
    .attr("font-size", 58).text("Hour");
  g.append("text").attr("transform", "translate(80,1236) rotate(-90)")
    .attr("text-anchor", "middle").attr("font-size", 58)
    .style("white-space", "pre").text("Maximum  temperature (°C)");
}

drawPart(partA, 0, "(a)");
drawPart(partB, 1976, "(b)");

// legend
const legend = svg.append("g");
legend.append("rect").attr("x", 154).attr("y", 46).attr("width", 2854).attr("height", 220)
  .attr("fill", "#fff").attr("stroke", "#000").attr("stroke-width", 4);
const legendCols = [236, 789, 1420, 2054, 2642];
const legendRows = [117, 203];
seriesNames.forEach((name, i) => {
  const c = Math.floor(i / 2), r = i % 2;
  const st = seriesStyle[name];
  const lx = legendCols[c], ly = legendRows[r];
  legend.append("line").attr("x1", lx).attr("x2", lx + 214).attr("y1", ly).attr("y2", ly)
    .attr("stroke", st.color).attr("stroke-width", 9)
    .attr("stroke-dasharray", st.dashed ? "80,42" : null);
  legend.append("text").attr("x", lx + 265).attr("y", ly).attr("dy", "0.36em")
    .attr("font-size", 57).attr("fill", "#000").text(name);
});
</script>
</body>
</html>
